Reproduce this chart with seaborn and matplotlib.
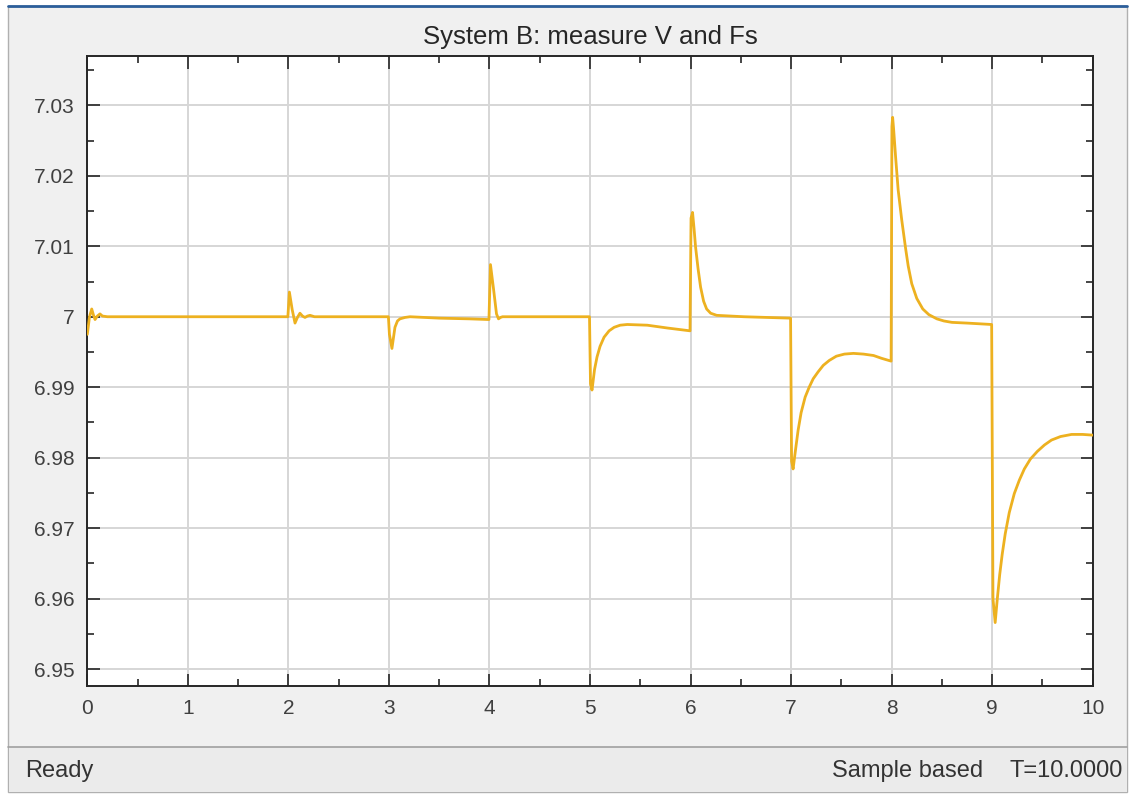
import matplotlib
matplotlib.use("Agg")
import matplotlib.pyplot as plt
import seaborn as sns
import pandas as pd
from matplotlib.patches import Rectangle
from matplotlib.lines import Line2D
from matplotlib.ticker import MultipleLocator

# ---------------- data ----------------
title = "System B: measure V and Fs"
time = [0.000, 0.022, 0.044, 0.060, 0.077, 0.100, 0.126, 0.150, 0.200, 1.995,
        2.010, 2.038, 2.066, 2.090, 2.115, 2.140, 2.165, 2.190, 2.215, 2.260, 2.995,
        3.005, 3.030, 3.060, 3.085, 3.110, 3.160, 3.210, 3.500, 3.800, 3.995,
        4.010, 4.040, 4.070, 4.090, 4.110, 4.130, 4.995,
        5.005, 5.020, 5.045, 5.070, 5.100, 5.140, 5.190, 5.240, 5.300, 5.370, 5.570, 5.770, 5.995,
        6.005, 6.020, 6.035, 6.050, 6.075, 6.100, 6.130, 6.160, 6.200, 6.260, 6.530, 6.995,
        7.005, 7.020, 7.045, 7.070, 7.100, 7.140, 7.180, 7.220, 7.270, 7.320, 7.380, 7.450,
        7.530, 7.620, 7.720, 7.820, 7.900, 7.995,
        8.003, 8.010, 8.020, 8.040, 8.065, 8.100, 8.140, 8.165, 8.200, 8.250, 8.310, 8.370,
        8.450, 8.520, 8.600, 8.750, 8.995,
        9.008, 9.030, 9.050, 9.075, 9.100, 9.130, 9.170, 9.220, 9.270, 9.320, 9.380, 9.450,
        9.520, 9.590, 9.680, 9.790, 9.900, 10.000]
value = [6.9975, 7.0000, 7.0011, 7.0003, 6.9996, 7.0001, 7.0004, 7.0001, 7.0000, 7.0000,
         7.0035, 7.0010, 6.9991, 6.9999, 7.0005, 7.0001, 6.9999, 7.0001, 7.0002, 7.0000, 7.0000,
         6.9975, 6.9955, 6.9985, 6.9994, 6.9997, 6.9999, 7.0000, 6.9998, 6.9997, 6.9996,
         7.0074, 7.0040, 7.0004, 6.9997, 6.9999, 7.0000, 7.0000,
         6.9905, 6.9896, 6.9925, 6.9943, 6.9958, 6.9971, 6.9980, 6.9985, 6.9988, 6.9989, 6.9988, 6.9984, 6.9980,
         7.0140, 7.0148, 7.0125, 7.0099, 7.0068, 7.0042, 7.0022, 7.0011, 7.0005, 7.0002, 7.0000, 6.9998,
         6.9795, 6.9784, 6.9812, 6.9839, 6.9864, 6.9886, 6.9900, 6.9912, 6.9922, 6.9931, 6.9938, 6.9944,
         6.9947, 6.9948, 6.9947, 6.9945, 6.9941, 6.9937,
         7.0270, 7.0283, 7.0266, 7.0226, 7.0180, 7.0138, 7.0096, 7.0072, 7.0047, 7.0026, 7.0011, 7.0003,
         6.9997, 6.9994, 6.9992, 6.9991, 6.9989,
         6.9600, 6.9566, 6.9598, 6.9634, 6.9663, 6.9692, 6.9722, 6.9749, 6.9768, 6.9784, 6.9798, 6.9809,
         6.9818, 6.9825, 6.9830, 6.9833, 6.9833, 6.9832]
x_ticks = [0, 1, 2, 3, 4, 5, 6, 7, 8, 9, 10]
x_tick_labels = ["0", "1", "2", "3", "4", "5", "6", "7", "8", "9", "10"]
y_ticks = [6.95, 6.96, 6.97, 6.98, 6.99, 7.00, 7.01, 7.02, 7.03]
y_tick_labels = ["6.95", "6.96", "6.97", "6.98", "6.99", "7", "7.01", "7.02", "7.03"]
status_left = "Ready"
status_mid = "Sample based"
status_right = "T=10.0000"

# ---------------- figure ----------------
sns.set_theme(style="white")
plt.rcParams['font.family'] = ['Liberation Sans', 'DejaVu Sans']

W, H = 1133, 794
fig = plt.figure(figsize=(W / 100, H / 100), dpi=100, facecolor='white')


def fx(px):
    return px / W


def fy(py):
    return 1 - py / H


# window background
fig.patches.append(Rectangle((fx(8), fy(792)), fx(1127) - fx(8), fy(6) - fy(792),
                             transform=fig.transFigure, facecolor='#f0f0f0',
                             edgecolor='#b0b0b0', lw=1, zorder=-3))
# status bar
fig.patches.append(Rectangle((fx(8.5), fy(791.5)), fx(1126.5) - fx(8.5), fy(747) - fy(791.5),
                             transform=fig.transFigure, facecolor='#ebebeb',
                             edgecolor='none', zorder=-2))
fig.lines.append(Line2D([fx(8), fx(1127)], [fy(747), fy(747)], transform=fig.transFigure,
                        color='#a0a0a0', lw=1.2, zorder=-1))
fig.lines.append(Line2D([fx(8), fx(1127)], [fy(6), fy(6)], transform=fig.transFigure,
                        color='#2b5e9a', lw=2, zorder=-1))

ax = fig.add_axes([fx(87.3), fy(686), fx(1092.7) - fx(87.3), fy(56) - fy(686)])
ax.set_zorder(5)
ax.set_facecolor('white')

df = pd.DataFrame({"t": time, "v": value})
sns.lineplot(data=df, x="t", y="v", ax=ax, color='#EDB120', lw=2.0,
             estimator=None, sort=False, zorder=3)

ax.set_xlim(0, 10)
ax.set_ylim(6.9476, 7.0370)
ax.set_xticks(x_ticks)
ax.set_xticklabels(x_tick_labels)
ax.set_yticks(y_ticks)
ax.set_yticklabels(y_tick_labels)
ax.xaxis.set_minor_locator(MultipleLocator(0.5))
ax.yaxis.set_minor_locator(MultipleLocator(0.005))
ax.tick_params(which='both', direction='in', top=True, right=True, bottom=True, left=True,
               color='#262626', width=1.2)
ax.tick_params(which='major', length=9, labelsize=15, labelcolor='#404040', pad=9)
ax.tick_params(which='minor', length=5)
ax.set_xlabel("")
ax.set_ylabel("")
ax.set_axisbelow(True)
ax.grid(True, which='major', color='#d6d6d6', lw=1.4)
for s in ax.spines.values():
    s.set_color('#262626')
    s.set_linewidth(1.4)

fig.text(fx(590), fy(37), title, ha='center', va='center', fontsize=18.5, color='#262626')
fig.text(fx(25), fy(771), status_left, ha='left', va='center', fontsize=17, color='#333333')
fig.text(fx(983), fy(771), status_mid, ha='right', va='center', fontsize=17, color='#333333')
fig.text(fx(1123), fy(771), status_right, ha='right', va='center', fontsize=17, color='#333333')

fig.savefig("out.png", dpi=100, facecolor='white')
